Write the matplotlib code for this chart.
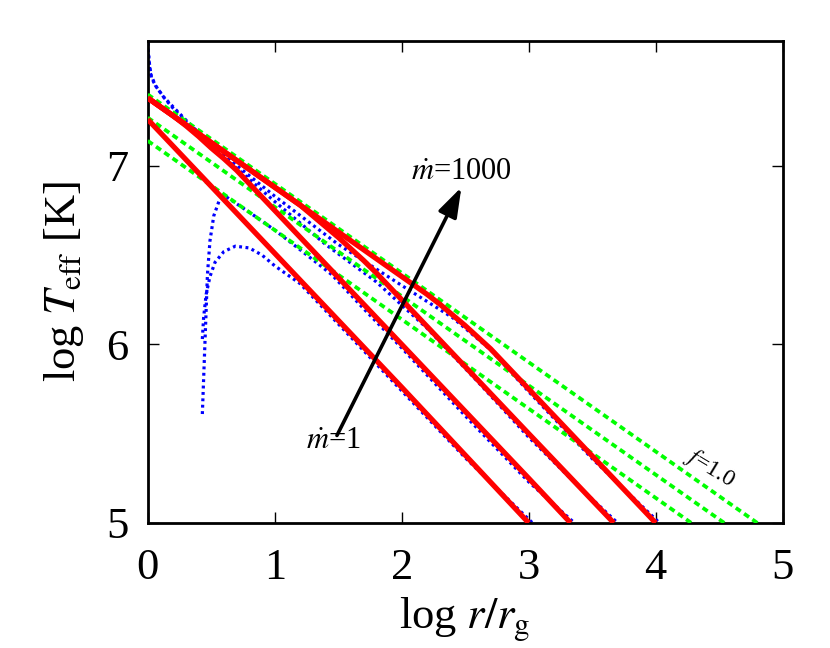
import matplotlib
matplotlib.use('Agg')
import matplotlib.pyplot as plt

plt.rcParams['font.family'] = ['Liberation Serif', 'DejaVu Serif']
plt.rcParams['mathtext.fontset'] = 'stix'

# red: slim disk models, mdot = 1, 10, 100, 1000
red_m1_x = [0.0, 1.0, 2.0, 3.0]
red_m1_y = [7.26, 6.51, 5.76, 5.0]
red_m10_x = [0.0, 0.2, 0.3, 0.4, 0.5, 0.6, 0.7, 1.0, 2.0, 3.0, 3.33]
red_m10_y = [7.38, 7.28, 7.225, 7.165, 7.10, 7.04, 6.975, 6.75, 6.0, 5.25, 5.0]
red_m100_x = [0.0, 0.5, 1.0, 1.2, 1.3, 1.4, 1.5, 1.6, 1.7, 1.8, 2.0, 3.0, 3.67]
red_m100_y = [7.38, 7.13, 6.88, 6.78, 6.72, 6.66, 6.60, 6.535, 6.47, 6.40, 6.25, 5.50, 5.0]
red_m1000_x = [0.0, 0.5, 1.0, 1.5, 2.0, 2.2, 2.3, 2.4, 2.5, 2.6, 2.7, 2.8, 3.0, 3.5, 4.0]
red_m1000_y = [7.38, 7.13, 6.88, 6.63, 6.38, 6.28, 6.225, 6.165, 6.105, 6.04, 5.975, 5.90, 5.75, 5.375, 5.0]

# blue dotted curves
blue_m1_x = [0.43, 0.44, 0.46, 0.49, 0.53, 0.6, 0.69, 0.8, 0.9, 1.0, 1.2, 1.5, 2.0, 2.5, 3.03]
blue_m1_y = [6.03, 6.15, 6.28, 6.38, 6.46, 6.52, 6.55, 6.54, 6.50, 6.44, 6.34, 6.115, 5.74, 5.365, 5.0]
blue_m10_x = [0.43, 0.45, 0.47, 0.49, 0.52, 0.56, 0.61, 0.8, 1.0, 1.2, 1.45, 1.7, 2.0, 2.5, 3.0, 3.36]
blue_m10_y = [5.61, 6.0, 6.39, 6.58, 6.72, 6.80, 6.83, 6.74, 6.64, 6.53, 6.39, 6.2, 5.98, 5.60, 5.23, 5.0]
blue_m100_x = [0.0, 0.02, 0.06, 0.12, 0.2, 0.35, 0.6, 1.0, 1.4, 1.8, 2.2, 2.6, 3.0, 3.4, 3.70]
blue_m100_y = [7.66, 7.52, 7.45, 7.39, 7.33, 7.22, 7.05, 6.80, 6.56, 6.35, 6.09, 5.79, 5.48, 5.2, 5.0]
blue_m1000_x = [0.0, 0.005, 0.015, 0.03, 0.07, 0.13, 0.19, 0.33, 0.6, 1.0, 1.5, 2.0, 2.4, 2.7, 3.0, 3.5, 4.03]
blue_m1000_y = [7.76, 7.64, 7.56, 7.49, 7.44, 7.38, 7.33, 7.23, 7.06, 6.83, 6.56, 6.33, 6.15, 5.97, 5.735, 5.36, 5.0]

# green dashed: f lines
green_f1_x = [0.0, 1.0, 2.0, 3.0, 4.0, 4.8]
green_f1_y = [7.40, 6.90, 6.40, 5.90, 5.40, 5.0]
green_f2_x = [0.0, 1.0, 2.0, 3.0, 4.0, 4.54]
green_f2_y = [7.27, 6.77, 6.27, 5.77, 5.27, 5.0]
green_f3_x = [0.0, 1.0, 2.0, 3.0, 4.0, 4.28]
green_f3_y = [7.14, 6.64, 6.14, 5.64, 5.14, 5.0]

fig = plt.figure(figsize=(8.3, 6.48), dpi=100)
ax = fig.add_axes([0.178, 0.193, 0.765, 0.744])

for bx, by in [(blue_m1_x, blue_m1_y), (blue_m10_x, blue_m10_y),
               (blue_m100_x, blue_m100_y), (blue_m1000_x, blue_m1000_y)]:
    ax.plot(bx, by, color='#0000ff', lw=2.3, dashes=[0.9, 1.1], zorder=2)

for gx, gy in [(green_f1_x, green_f1_y), (green_f2_x, green_f2_y), (green_f3_x, green_f3_y)]:
    ax.plot(gx, gy, color='#00ff00', lw=2.7, dashes=[1.6, 1.1], zorder=3)

for rx, ry in [(red_m1_x, red_m1_y), (red_m10_x, red_m10_y),
               (red_m100_x, red_m100_y), (red_m1000_x, red_m1000_y)]:
    ax.plot(rx, ry, color='#ff0000', lw=3.8, solid_capstyle='butt', zorder=4)

ax.annotate('', xy=(2.47, 6.88), xytext=(1.49, 5.49),
            arrowprops=dict(arrowstyle='-|>,head_length=0.9,head_width=0.3', lw=2.6,
                            color='black', mutation_scale=20, shrinkA=0, shrinkB=0), zorder=5)
ax.text(1.46, 5.46, r'$\dot{m}$=1', fontsize=22, ha='center', va='center', zorder=6)
ax.text(2.47, 6.97, r'$\dot{m}$=1000', fontsize=22, ha='center', va='center', zorder=6)
ax.text(4.43, 5.31, r'$f$=1.0', fontsize=17, ha='center', va='center', rotation=-31, zorder=6)

ax.set_xlim(0, 5)
ax.set_ylim(5, 7.7)
ax.set_xticks([0, 1, 2, 3, 4, 5])
ax.set_yticks([5, 6, 7])
ax.tick_params(direction='in', length=8, width=1, top=True, right=True, labelsize=32)
ax.tick_params(axis='x', pad=18)
ax.tick_params(axis='y', pad=14)
for s in ax.spines.values():
    s.set_linewidth(2)

ax.set_xlabel(r'log $r/r_{\rm g}$', fontsize=32, labelpad=5)
ax.set_ylabel(r'log $T_{\rm eff}$ [K]', fontsize=32, labelpad=14)

fig.savefig('out.png', dpi=100)
